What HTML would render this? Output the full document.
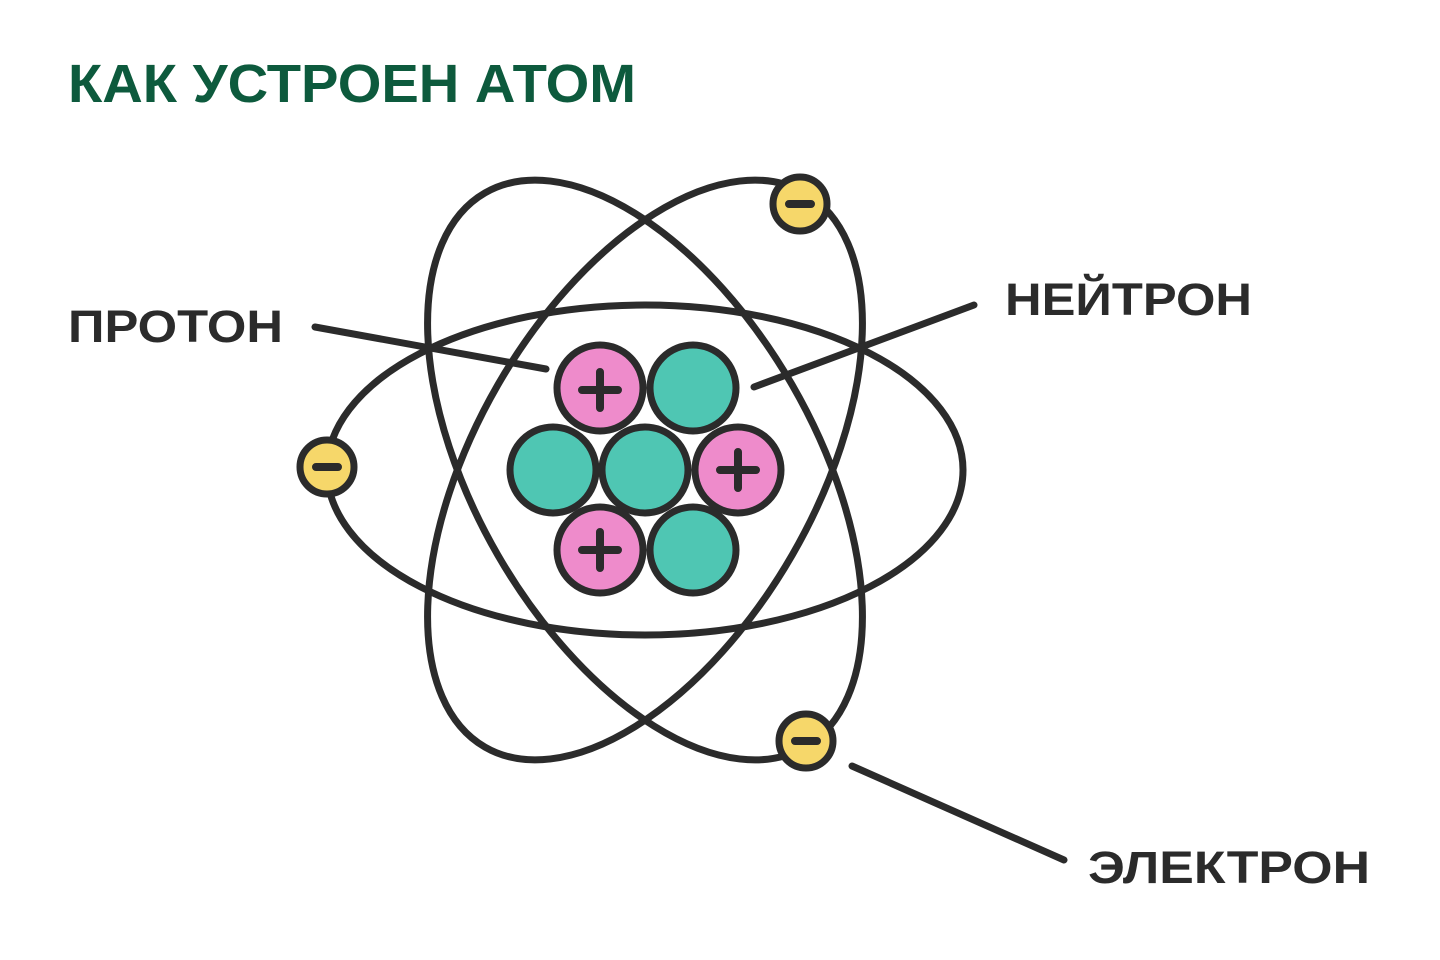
<!DOCTYPE html>
<html><head><meta charset="utf-8"><style>
html,body{margin:0;padding:0;background:#fff;}
svg{display:block;}
</style></head><body>
<svg width="1440" height="960" viewBox="0 0 1440 960" xmlns="http://www.w3.org/2000/svg">
<rect width="1440" height="960" fill="#fff"/>
<text x="68" y="102" font-family="Liberation Sans, sans-serif" font-weight="bold" font-size="54" fill="#0d5a3d" textLength="568" lengthAdjust="spacingAndGlyphs">КАК УСТРОЕН АТОМ</text>
<g font-family="Liberation Sans, sans-serif" font-weight="bold" font-size="45" fill="#2b2b2b">
<text x="68" y="342" textLength="215" lengthAdjust="spacingAndGlyphs">ПРОТОН</text>
<text x="1005" y="315" textLength="247" lengthAdjust="spacingAndGlyphs">НЕЙТРОН</text>
<text x="1088" y="883" textLength="282" lengthAdjust="spacingAndGlyphs">ЭЛЕКТРОН</text>
</g>
<g fill="none" stroke="#2b2b2b" stroke-width="7" stroke-linecap="round">
<ellipse cx="645" cy="470" rx="318" ry="165"/>
<ellipse cx="645" cy="470" rx="320" ry="170" transform="rotate(60 645 470)"/>
<ellipse cx="645" cy="470" rx="320" ry="170" transform="rotate(-60 645 470)"/>
<line x1="315" y1="327" x2="546" y2="369"/>
<line x1="974" y1="305" x2="754" y2="387"/>
<line x1="852" y1="766" x2="1064" y2="860"/>
</g>
<g stroke="#2b2b2b" stroke-width="7">
<circle cx="600" cy="388" r="43" fill="#ee8bcb"/>
<circle cx="693" cy="388" r="43" fill="#4fc6b3"/>
<circle cx="553" cy="470" r="43" fill="#4fc6b3"/>
<circle cx="645" cy="470" r="43" fill="#4fc6b3"/>
<circle cx="738" cy="470" r="43" fill="#ee8bcb"/>
<circle cx="600" cy="550" r="43" fill="#ee8bcb"/>
<circle cx="693" cy="550" r="43" fill="#4fc6b3"/>
<circle cx="800" cy="204" r="27" fill="#f6d76a"/>
<circle cx="327" cy="467" r="27" fill="#f6d76a"/>
<circle cx="806" cy="741" r="27" fill="#f6d76a"/>
</g>
<g stroke="#2b2b2b" stroke-width="8" stroke-linecap="round">
<path d="M582 390h36M600 372v36"/>
<path d="M720 470h36M738 452v36"/>
<path d="M582 550h36M600 532v36"/>
<path d="M789 204h22M316 467h22M795 741h22"/>
</g>
</svg>
</body></html>
